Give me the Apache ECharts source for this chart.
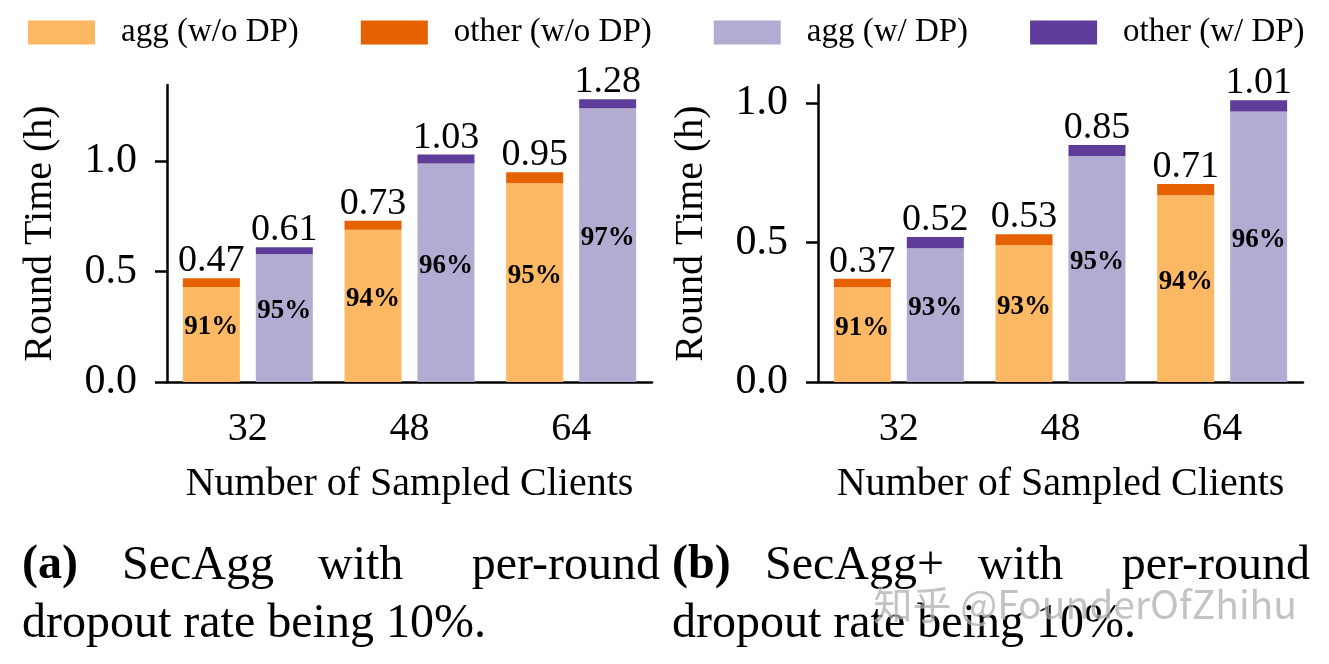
<!DOCTYPE html>
<html>
<head>
<meta charset="utf-8">
<script src="https://cdn.jsdelivr.net/npm/echarts@6/dist/echarts.min.js"></script>
<style>
html,body{margin:0;padding:0;background:#fff;}
#chart{width:1329px;height:664px;}
</style>
</head>
<body>
<div id="chart"></div>
<script>
// ---- data ----
const categories = ['32', '48', '64'];
const seriesNames = ['agg (w/o DP)', 'other (w/o DP)', 'agg (w/ DP)', 'other (w/ DP)'];
const yTicks = [0, 0.5, 1.0];

// (a) SecAgg
const aggNoDpA   = [0.43, 0.69, 0.90];
const otherNoDpA = [0.04, 0.04, 0.05];
const totalNoDpA = [0.47, 0.73, 0.95];
const pctNoDpA   = [91, 94, 95];
const aggDpA     = [0.58, 0.99, 1.24];
const otherDpA   = [0.03, 0.04, 0.04];
const totalDpA   = [0.61, 1.03, 1.28];
const pctDpA     = [95, 96, 97];

// (b) SecAgg+
const aggNoDpB   = [0.34, 0.49, 0.67];
const otherNoDpB = [0.03, 0.04, 0.04];
const totalNoDpB = [0.37, 0.53, 0.71];
const pctNoDpB   = [91, 93, 94];
const aggDpB     = [0.48, 0.81, 0.97];
const otherDpB   = [0.04, 0.04, 0.04];
const totalDpB   = [0.52, 0.85, 1.01];
const pctDpB     = [93, 95, 96];

const yMaxA = 1.345;
const yMaxB = 1.065;

// ---- style ----
const SERIF = '"Liberation Serif", "Times New Roman", serif';
const colors = ['#fdb863', '#e66101', '#b2abd2', '#5e3c99'];

function xAxis(gi) {
  return {
    type: 'category', gridIndex: gi, data: categories,
    axisLine: {lineStyle: {color: '#000', width: 2.5}},
    axisTick: {alignWithLabel: true, length: 11, lineStyle: {color: '#000', width: 2.5}},
    axisLabel: {color: '#000', fontFamily: SERIF, fontSize: 40, margin: 27},
    name: 'Number of Sampled Clients', nameLocation: 'middle', nameGap: 82,
    nameTextStyle: {color: '#000', fontFamily: SERIF, fontSize: 40}
  };
}
function yAxis(gi, max) {
  return {
    type: 'value', gridIndex: gi, min: 0, max: max, interval: 0.5,
    splitLine: {show: false},
    axisLine: {show: true, lineStyle: {color: '#000', width: 2.5}},
    axisTick: {show: true, length: 12, customValues: yTicks, lineStyle: {color: '#000', width: 2.5}},
    axisLabel: {color: '#000', fontFamily: SERIF, fontSize: 42, margin: 30,
      customValues: yTicks, formatter: v => v.toFixed(1)},
    name: 'Round Time (h)', nameLocation: 'middle', nameGap: 107,
    nameTextStyle: {color: '#000', fontFamily: SERIF, fontSize: 40}
  };
}
function aggSeries(name, gi, stack, data, pcts, color) {
  return {
    name: name, type: 'bar', xAxisIndex: gi, yAxisIndex: gi, stack: stack,
    data: data, barWidth: 57, barGap: '28%', itemStyle: {color: color},
    label: {show: true, position: 'inside', offset: [0, -7],
      formatter: p => pcts[p.dataIndex] + '%',
      color: '#000', fontFamily: SERIF, fontWeight: 'bold', fontSize: 27}
  };
}
function otherSeries(name, gi, stack, data, totals, color) {
  return {
    name: name, type: 'bar', xAxisIndex: gi, yAxisIndex: gi, stack: stack,
    data: data, barWidth: 57, barGap: '28%', itemStyle: {color: color},
    label: {show: true, position: 'top', distance: -2,
      formatter: p => totals[p.dataIndex].toFixed(2),
      color: '#000', fontFamily: SERIF, fontSize: 38}
  };
}

const chart = echarts.init(document.getElementById('chart'), null, {renderer: 'canvas'});
const CAP = '48px ' + SERIF;
const CAPB = 'bold 48px ' + SERIF;
chart.setOption({
  animation: false,
  backgroundColor: '#fff',
  color: colors,
  legend: {
    data: seriesNames, left: 23, top: 11, icon: 'rect',
    itemWidth: 67, itemHeight: 24, itemGap: 62,
    textStyle: {color: '#000', fontFamily: SERIF, fontSize: 33, padding: [0, 0, 0, 21]}
  },
  grid: [
    {left: 167, top: 85, width: 485, height: 297},
    {left: 818, top: 85, width: 485, height: 297}
  ],
  xAxis: [xAxis(0), xAxis(1)],
  yAxis: [yAxis(0, yMaxA), yAxis(1, yMaxB)],
  series: [
    aggSeries(seriesNames[0], 0, 'nodpA', aggNoDpA, pctNoDpA, colors[0]),
    otherSeries(seriesNames[1], 0, 'nodpA', otherNoDpA, totalNoDpA, colors[1]),
    aggSeries(seriesNames[2], 0, 'dpA', aggDpA, pctDpA, colors[2]),
    otherSeries(seriesNames[3], 0, 'dpA', otherDpA, totalDpA, colors[3]),
    aggSeries(seriesNames[0], 1, 'nodpB', aggNoDpB, pctNoDpB, colors[0]),
    otherSeries(seriesNames[1], 1, 'nodpB', otherNoDpB, totalNoDpB, colors[1]),
    aggSeries(seriesNames[2], 1, 'dpB', aggDpB, pctDpB, colors[2]),
    otherSeries(seriesNames[3], 1, 'dpB', otherDpB, totalDpB, colors[3])
  ],
  graphic: [
    // caption (a)
    {type: 'text', left: 22, top: 542, style: {text: '(a)', font: CAPB, fill: '#000'}},
    {type: 'text', left: 122, top: 542, style: {text: 'SecAgg', font: CAP, fill: '#000'}},
    {type: 'text', left: 318, top: 542, style: {text: 'with', font: CAP, fill: '#000'}},
    {type: 'text', right: 669, top: 542, style: {text: 'per-round', font: CAP, fill: '#000'}},
    {type: 'text', left: 22, top: 600, style: {text: 'dropout rate being 10%.', font: CAP, fill: '#000'}},
    // caption (b)
    {type: 'text', left: 672, top: 542, style: {text: '(b)', font: CAPB, fill: '#000'}},
    {type: 'text', left: 765, top: 542, style: {text: 'SecAgg+', font: CAP, fill: '#000'}},
    {type: 'text', left: 978, top: 542, style: {text: 'with', font: CAP, fill: '#000'}},
    {type: 'text', right: 19, top: 542, style: {text: 'per-round', font: CAP, fill: '#000'}},
    {type: 'text', left: 672, top: 600, style: {text: 'dropout rate being 10%.', font: CAP, fill: '#000'}},
    // watermark
    {type: 'text', left: 873, top: 584, z: 100,
      style: {text: '知乎 @FounderOfZhihu', font: '39px "Noto Sans CJK SC", "Noto Sans", sans-serif',
        fill: 'rgba(170,170,170,0.7)', stroke: 'rgba(255,255,255,0.6)', lineWidth: 1}}
  ]
});
</script>
</body>
</html>
